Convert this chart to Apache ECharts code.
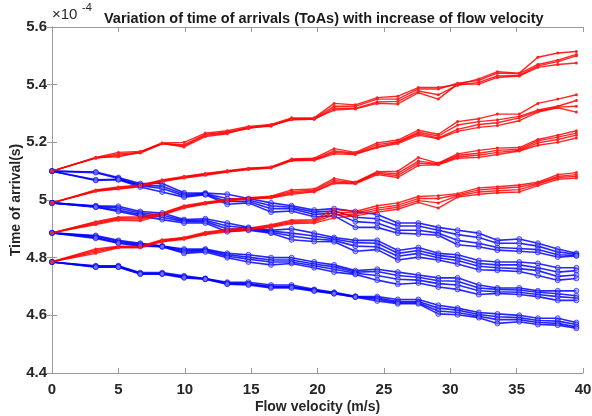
<!DOCTYPE html>
<html>
<head>
<meta charset="utf-8">
<script src="https://cdn.jsdelivr.net/npm/echarts@6/dist/echarts.min.js"></script>
<style>
  html, body { margin: 0; padding: 0; background: #fff; }
  #chart { width: 592px; height: 416px; }
</style>
</head>
<body>
<div id="chart"></div>
<script>
// flow velocity (m/s)
const velocity = [0, 3.3, 5.0, 6.65, 8.3, 9.95, 11.55, 13.2, 14.8, 16.5, 18.05, 19.75, 21.25,
  22.85, 24.5, 26.05, 27.6, 29.1, 30.55, 32.15, 33.55, 35.2, 36.6, 38.1, 39.5];

// ToA (x 1e-4 s) - red: increasing
const redA1 = [5.100, 5.148, 5.165, 5.168, 5.198, 5.200, 5.232, 5.240, 5.255, 5.262, 5.285, 5.285, 5.335, 5.330, 5.355, 5.360, 5.390, 5.390, 5.400, 5.420, 5.445, 5.440, 5.495, 5.510, 5.515];
const redA2 = [5.100, 5.146, 5.160, 5.165, 5.196, 5.192, 5.228, 5.236, 5.250, 5.258, 5.280, 5.283, 5.325, 5.325, 5.350, 5.350, 5.385, 5.385, 5.405, 5.415, 5.440, 5.438, 5.470, 5.485, 5.505];
const redA3 = [5.100, 5.145, 5.155, 5.163, 5.195, 5.188, 5.224, 5.233, 5.248, 5.260, 5.278, 5.280, 5.318, 5.318, 5.340, 5.342, 5.378, 5.365, 5.398, 5.408, 5.430, 5.432, 5.465, 5.480, 5.500];
const redA4 = [5.100, 5.147, 5.150, 5.166, 5.197, 5.184, 5.220, 5.230, 5.252, 5.256, 5.282, 5.281, 5.312, 5.316, 5.335, 5.333, 5.372, 5.350, 5.402, 5.402, 5.425, 5.430, 5.460, 5.470, 5.475];

const redB1 = [4.990, 5.035, 5.045, 5.052, 5.070, 5.082, 5.092, 5.102, 5.110, 5.115, 5.142, 5.145, 5.178, 5.165, 5.198, 5.208, 5.242, 5.228, 5.272, 5.282, 5.298, 5.298, 5.335, 5.350, 5.365];
const redB2 = [4.990, 5.033, 5.043, 5.050, 5.068, 5.080, 5.090, 5.100, 5.109, 5.114, 5.140, 5.142, 5.170, 5.162, 5.192, 5.202, 5.235, 5.222, 5.260, 5.272, 5.278, 5.290, 5.312, 5.325, 5.345];
const redB3 = [4.990, 5.031, 5.040, 5.048, 5.066, 5.078, 5.088, 5.099, 5.107, 5.112, 5.138, 5.140, 5.165, 5.160, 5.185, 5.200, 5.230, 5.215, 5.245, 5.262, 5.268, 5.285, 5.308, 5.322, 5.325];
const redB4 = [4.990, 5.030, 5.038, 5.046, 5.064, 5.076, 5.086, 5.097, 5.106, 5.111, 5.136, 5.138, 5.160, 5.158, 5.182, 5.196, 5.225, 5.212, 5.238, 5.252, 5.258, 5.275, 5.305, 5.320, 5.305];

const redC1 = [4.886, 4.925, 4.940, 4.942, 4.955, 4.980, 4.992, 5.002, 5.008, 5.013, 5.035, 5.038, 5.075, 5.062, 5.098, 5.100, 5.147, 5.128, 5.160, 5.172, 5.180, 5.182, 5.210, 5.225, 5.240];
const redC2 = [4.886, 4.922, 4.937, 4.938, 4.952, 4.978, 4.990, 5.000, 5.006, 5.011, 5.030, 5.034, 5.068, 5.060, 5.095, 5.092, 5.135, 5.126, 5.155, 5.162, 5.172, 5.176, 5.205, 5.218, 5.232];
const redC3 = [4.886, 4.918, 4.934, 4.934, 4.950, 4.975, 4.988, 4.998, 5.005, 5.009, 5.025, 5.030, 5.062, 5.058, 5.092, 5.085, 5.128, 5.124, 5.150, 5.155, 5.165, 5.172, 5.198, 5.210, 5.225];
const redC4 = [4.886, 4.915, 4.930, 4.928, 4.948, 4.972, 4.986, 4.996, 5.003, 5.007, 5.020, 5.028, 5.058, 5.056, 5.088, 5.078, 5.120, 5.122, 5.145, 5.148, 5.158, 5.170, 5.190, 5.200, 5.215];

const redD1 = [4.786, 4.830, 4.840, 4.840, 4.862, 4.870, 4.888, 4.898, 4.902, 4.914, 4.930, 4.932, 4.968, 4.960, 4.980, 4.990, 5.012, 5.015, 5.022, 5.042, 5.046, 5.052, 5.062, 5.088, 5.095];
const redD2 = [4.786, 4.825, 4.838, 4.838, 4.860, 4.868, 4.885, 4.896, 4.900, 4.911, 4.926, 4.928, 4.958, 4.955, 4.972, 4.982, 5.005, 5.005, 5.018, 5.035, 5.040, 5.045, 5.058, 5.082, 5.088];
const redD3 = [4.786, 4.820, 4.836, 4.836, 4.858, 4.866, 4.882, 4.893, 4.898, 4.908, 4.922, 4.924, 4.948, 4.950, 4.965, 4.975, 4.998, 4.990, 5.014, 5.028, 5.032, 5.036, 5.055, 5.078, 5.082];
const redD4 = [4.786, 4.815, 4.834, 4.834, 4.855, 4.864, 4.880, 4.890, 4.896, 4.905, 4.918, 4.920, 4.938, 4.945, 4.958, 4.968, 4.992, 4.972, 5.010, 5.020, 5.025, 5.028, 5.050, 5.072, 5.076];

// blue: decreasing
const blueA1 = [5.100, 5.097, 5.078, 5.057, 5.057, 5.025, 5.024, 5.020, 5.005, 4.990, 4.980, 4.965, 4.970, 4.960, 4.950, 4.920, 4.920, 4.905, 4.895, 4.885, 4.860, 4.865, 4.850, 4.830, 4.815];
const blueA2 = [5.100, 5.095, 5.075, 5.052, 5.048, 5.020, 5.022, 5.005, 5.000, 4.980, 4.975, 4.958, 4.962, 4.940, 4.935, 4.910, 4.910, 4.895, 4.880, 4.870, 4.850, 4.850, 4.840, 4.820, 4.812];
const blueA3 = [5.100, 5.070, 5.072, 5.050, 5.040, 5.015, 5.020, 4.995, 4.995, 4.970, 4.970, 4.950, 4.955, 4.925, 4.920, 4.895, 4.895, 4.885, 4.860, 4.850, 4.835, 4.832, 4.828, 4.810, 4.808];
const blueA4 = [5.100, 5.068, 5.070, 5.045, 5.028, 5.010, 5.018, 4.985, 4.990, 4.958, 4.962, 4.942, 4.945, 4.905, 4.905, 4.885, 4.882, 4.878, 4.845, 4.838, 4.826, 4.822, 4.818, 4.802, 4.806];

const blueB1 = [4.990, 4.980, 4.978, 4.960, 4.955, 4.932, 4.935, 4.920, 4.905, 4.895, 4.900, 4.885, 4.870, 4.860, 4.860, 4.825, 4.835, 4.815, 4.810, 4.790, 4.785, 4.785, 4.780, 4.765, 4.765];
const blueB2 = [4.990, 4.978, 4.972, 4.955, 4.948, 4.928, 4.930, 4.910, 4.902, 4.892, 4.885, 4.875, 4.865, 4.852, 4.850, 4.815, 4.825, 4.808, 4.800, 4.780, 4.775, 4.775, 4.765, 4.750, 4.755];
const blueB3 = [4.990, 4.976, 4.965, 4.950, 4.940, 4.925, 4.925, 4.900, 4.898, 4.888, 4.875, 4.865, 4.860, 4.840, 4.838, 4.805, 4.815, 4.800, 4.790, 4.770, 4.765, 4.762, 4.755, 4.735, 4.740];
const blueB4 = [4.990, 4.975, 4.960, 4.945, 4.932, 4.920, 4.920, 4.890, 4.895, 4.885, 4.862, 4.856, 4.855, 4.822, 4.828, 4.792, 4.802, 4.792, 4.778, 4.758, 4.756, 4.752, 4.738, 4.722, 4.728];

const blueC1 = [4.886, 4.877, 4.860, 4.850, 4.840, 4.830, 4.830, 4.815, 4.810, 4.800, 4.800, 4.785, 4.775, 4.755, 4.760, 4.750, 4.740, 4.730, 4.730, 4.705, 4.695, 4.695, 4.685, 4.685, 4.685];
const blueC2 = [4.886, 4.874, 4.856, 4.847, 4.840, 4.826, 4.827, 4.810, 4.802, 4.792, 4.792, 4.778, 4.768, 4.750, 4.752, 4.738, 4.732, 4.720, 4.718, 4.695, 4.690, 4.688, 4.680, 4.675, 4.668];
const blueC3 = [4.886, 4.870, 4.852, 4.844, 4.838, 4.820, 4.824, 4.805, 4.795, 4.785, 4.785, 4.772, 4.760, 4.746, 4.738, 4.725, 4.722, 4.710, 4.705, 4.685, 4.682, 4.680, 4.672, 4.665, 4.660];
const blueC4 = [4.886, 4.867, 4.850, 4.840, 4.838, 4.815, 4.820, 4.800, 4.785, 4.775, 4.780, 4.765, 4.750, 4.742, 4.722, 4.708, 4.712, 4.698, 4.690, 4.672, 4.676, 4.672, 4.665, 4.652, 4.652];

const blueD1 = [4.785, 4.772, 4.772, 4.748, 4.748, 4.737, 4.728, 4.715, 4.715, 4.705, 4.705, 4.690, 4.680, 4.666, 4.665, 4.655, 4.655, 4.635, 4.625, 4.610, 4.605, 4.600, 4.590, 4.590, 4.575];
const blueD2 = [4.785, 4.770, 4.770, 4.746, 4.745, 4.734, 4.727, 4.712, 4.710, 4.700, 4.700, 4.688, 4.678, 4.665, 4.660, 4.648, 4.648, 4.625, 4.618, 4.603, 4.595, 4.592, 4.582, 4.580, 4.568];
const blueD3 = [4.785, 4.768, 4.768, 4.744, 4.744, 4.732, 4.726, 4.710, 4.708, 4.698, 4.698, 4.686, 4.676, 4.664, 4.656, 4.644, 4.644, 4.615, 4.610, 4.597, 4.585, 4.585, 4.575, 4.572, 4.560];
const blueD4 = [4.785, 4.767, 4.767, 4.743, 4.743, 4.730, 4.725, 4.708, 4.705, 4.695, 4.695, 4.684, 4.675, 4.663, 4.650, 4.640, 4.640, 4.605, 4.602, 4.592, 4.572, 4.578, 4.568, 4.566, 4.555];

const redLines = [redA1, redA2, redA3, redA4, redB1, redB2, redB3, redB4,
  redC1, redC2, redC3, redC4, redD1, redD2, redD3, redD4];
const blueLines = [blueA1, blueA2, blueA3, blueA4, blueB1, blueB2, blueB3, blueB4,
  blueC1, blueC2, blueC3, blueC4, blueD1, blueD2, blueD3, blueD4];

const chart = echarts.init(document.getElementById("chart"));

function pairs(arr) {
  return arr.map((v, i) => [velocity[i], v]);
}

let series = [];
for (let i = 0; i < blueLines.length; i++) {
  series.push({
    type: "line",
    data: pairs(blueLines[i]),
    symbol: "circle",
    symbolSize: 5,
    lineStyle: { color: "#0000ff", width: 1.6, opacity: 0.85 },
    itemStyle: { color: "rgba(120,120,255,0.5)", borderColor: "rgba(0,0,255,0.6)", borderWidth: 1 },
    animation: false,
    silent: true,
  });
}
for (let i = 0; i < redLines.length; i++) {
  series.push({
    type: "line",
    data: pairs(redLines[i]),
    symbol: "circle",
    symbolSize: 3,
    lineStyle: { color: "#ff0000", width: 1.4, opacity: 0.85 },
    itemStyle: { color: "#ff2020" },
    animation: false,
    silent: true,
  });
}

// tick labels
const axisFont = { fontFamily: "Liberation Sans", fontWeight: "bold", fontSize: 15, color: "#262626" };
const nameFont = { fontFamily: "Liberation Sans", fontWeight: "bold", fontSize: 14, color: "#262626" };
const frame = { show: true, lineStyle: { color: "#9a9a9a", width: 1 } };
const tick = { inside: true, length: 5, lineStyle: { color: "#9a9a9a" } };

const option = {
  backgroundColor: "#fff",
  animation: false,
  title: [
    {
      text: "Variation of time of arrivals (ToAs) with increase of flow velocity",
      left: 99,
      top: 6,
      textStyle: { fontFamily: "Liberation Sans", fontWeight: "bold", fontSize: 14.5, color: "#1a1a1a" },
    },
  ],
  graphic: [
    {
      type: "text",
      left: 52,
      top: 7,
      style: { text: "×10", font: "15px Liberation Sans", fill: "#262626" },
    },
    {
      type: "text",
      left: 82,
      top: 2,
      style: { text: "-4", font: "11px Liberation Sans", fill: "#262626" },
    },
  ],
  grid: { left: 52, right: 9, top: 27, bottom: 43, outerBoundsMode: "none" },
  xAxis: [
    {
      type: "value",
      min: 0,
      max: 40,
      interval: 5,
      name: "Flow velocity (m/s)",
      nameLocation: "middle",
      nameGap: 27,
      nameMoveOverlap: false,
      nameTextStyle: nameFont,
      axisLine: frame,
      axisTick: tick,
      axisLabel: Object.assign({ margin: 9 }, axisFont),
      splitLine: { show: false },
    },
    {
      type: "value",
      position: "top",
      min: 0,
      max: 40,
      interval: 5,
      axisLine: frame,
      axisTick: tick,
      axisLabel: { show: false },
      splitLine: { show: false },
    },
  ],
  yAxis: [
    {
      type: "value",
      min: 4.4,
      max: 5.6,
      interval: 0.2,
      name: "Time of arrival(s)",
      nameLocation: "middle",
      nameGap: 29,
      nameMoveOverlap: false,
      nameTextStyle: nameFont,
      axisLine: frame,
      axisTick: tick,
      axisLabel: Object.assign({ margin: 5, formatter: (v) => String(+v.toFixed(1)) }, axisFont),
      splitLine: { show: false },
    },
    {
      type: "value",
      position: "right",
      min: 4.4,
      max: 5.6,
      interval: 0.2,
      axisLine: frame,
      axisTick: tick,
      axisLabel: { show: false },
      splitLine: { show: false },
    },
  ],
  series: series,
};

chart.setOption(option);
</script>
</body>
</html>
